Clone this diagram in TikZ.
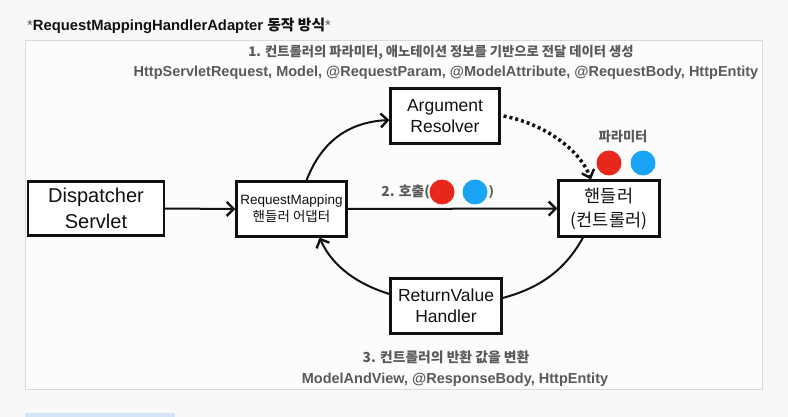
\documentclass[tikz,border=0pt]{standalone}
\usepackage{fontspec}
\setmainfont{Liberation Sans}
\newfontfamily\kr{Noto Sans CJK KR}
\usetikzlibrary{arrows.meta,calc}
\definecolor{bgc}{HTML}{F8F8F8}
\definecolor{panelc}{HTML}{FCFCFC}
\definecolor{panelline}{HTML}{DADADA}
\definecolor{greyt}{HTML}{5A5A5A}
\definecolor{barc}{HTML}{D5E4F6}
\definecolor{redc}{HTML}{E8271C}
\definecolor{bluec}{HTML}{1BA3F4}
\definecolor{ink}{HTML}{111111}
\tikzset{
  box/.style={draw=ink, line width=2.2pt, fill=white, align=center, inner sep=0pt, text=ink},
  arr/.style={draw=ink, line width=2pt, -{Straight Barb[length=7pt,width=14pt,line width=2.4pt]}},
  plain/.style={draw=ink, line width=2pt},
  dots/.style={draw=ink, line width=3.5pt, dash pattern=on 3pt off 3pt, -{Straight Barb[length=7pt,width=13pt,line width=2.4pt]}},
  note/.style={text=greyt, font=\bfseries\fontsize{14.5}{17}\selectfont, inner sep=0pt},
  knote/.style={text=greyt, font=\kr\bfseries\fontsize{13.3}{16}\selectfont, inner sep=0pt},
}
\begin{document}
\begin{tikzpicture}[x=1pt,y=-1pt]
\useasboundingbox (0,0) rectangle (788,417);
\fill[bgc] (0,0) rectangle (788,417);
\draw[panelline, fill=panelc, line width=1pt] (25,41) rectangle (762,389);
\fill[barc] (25,413) rectangle (175,417);

\node[anchor=west, inner sep=0pt, font=\bfseries\fontsize{14.8}{17}\selectfont, text=ink] (title) at (27,26)
  {{\color{greyt}\mdseries*}RequestMappingHandlerAdapter {\kr 동작 방식}{\color{greyt}\mdseries*}};

\node[knote] (t1) at (441,52) {1. 컨트롤러의 파라미터, 애노테이션 정보를 기반으로 전달 데이터 생성};
\node[note] (t2) at (446,73) {HttpServletRequest, Model, @RequestParam, @ModelAttribute, @RequestBody, HttpEntity};
\node[knote, font=\kr\bfseries\fontsize{13.8}{16}\selectfont] (t3) at (446,357) {3. 컨트롤러의 반환 값을 변환};
\node[note] (t4) at (455,380) {ModelAndView, @ResponseBody, HttpEntity};

\node[box, minimum width=136pt, minimum height=54pt, font=\fontsize{20}{26}\selectfont] (ds) at (96,208.5) {Dispatcher\\Servlet};
\node[box, minimum width=110pt, minimum height=55pt, font=\fontsize{13.5}{17}\selectfont] (rm) at (291.5,209) {RequestMapping\\{\kr 핸들러 어댑터}};
\node[box, minimum width=109pt, minimum height=55pt, font=\fontsize{17.5}{21}\selectfont] (ar) at (445,116) {Argument\\Resolver};
\node[box, minimum width=101pt, minimum height=56pt, font=\kr\fontsize{17.5}{24}\selectfont] (hd) at (609,208.5) {핸들러\\(컨트롤러)};
\node[box, minimum width=111pt, minimum height=55pt, font=\fontsize{17.5}{21}\selectfont] (rv) at (446,306) {ReturnValue\\Handler};

\node[knote] (pl) at (623,137) {파라미터};
\node[circle, fill=redc, minimum size=25pt, inner sep=0pt] (p1) at (609,163) {};
\node[circle, fill=bluec, minimum size=25pt, inner sep=0pt] (p2) at (643,163) {};

\node[knote, anchor=east, font=\kr\bfseries\fontsize{13.8}{16}\selectfont] (call) at (430,192) {2. 호출(};
\node[circle, fill=redc, minimum size=25pt, inner sep=0pt] (c1) at (442,192) {};
\node[circle, fill=bluec, minimum size=25pt, inner sep=0pt] (c2) at (475,192) {};
\node[note, anchor=west, font=\bfseries\fontsize{13.5}{16}\selectfont] (close) at (489,192) {)};

\draw[arr] (ds.east) -- (rm.west);
\draw[arr] (rm.east) -- (hd.west);

\coordinate (aS) at ($(rm.north)+(15,0)$);
\coordinate (aE) at ($(ar.west)+(0,4)$);
\draw[arr] (aS) .. controls (322,140) and (350,122) .. (aE);

\coordinate (dE) at ($(hd.north)+(-18,0)$);
\draw[dots] ($(ar.east)+(3,0)$) .. controls (545,124) and (580,150) .. (dE);

\coordinate (cS) at ($(hd.south)+(-26,0)$);
\coordinate (cE) at ($(rv.east)+(0,-8)$);
\draw[plain] (cS) .. controls (565,270) and (540,288) .. (cE);

\coordinate (rS) at ($(rv.west)+(0,-12)$);
\coordinate (rE) at ($(rm.south)+(28,0)$);
\draw[arr] (rS) .. controls (360,285) and (333,268) .. (rE);
\end{tikzpicture}
\end{document}
